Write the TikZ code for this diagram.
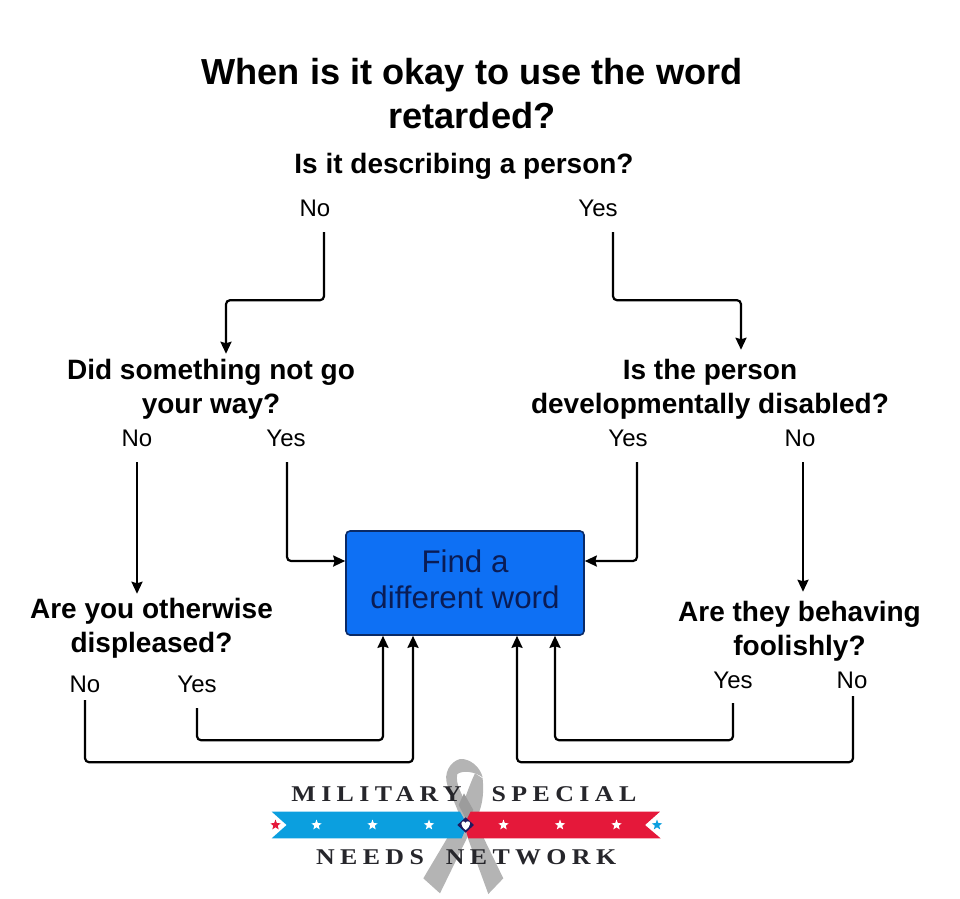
\documentclass[tikz,border=0pt]{standalone}
\usepackage{fontspec}
\setmainfont{Liberation Sans}
\newfontfamily\logofont[LetterSpace=24,FakeStretch=1.15]{Liberation Serif}
\usetikzlibrary{arrows.meta,shapes.geometric}
\definecolor{boxblue}{HTML}{0E70F4}
\definecolor{boxedge}{HTML}{0A2A66}
\definecolor{boxtext}{HTML}{0A1C55}
\definecolor{ribgrey}{HTML}{B4B4B4}
\definecolor{ribdark}{HTML}{9C9C9C}
\definecolor{banblue}{HTML}{0B9FDF}
\definecolor{banred}{HTML}{E5183A}
\definecolor{navy}{HTML}{1E1A5E}
\definecolor{logotext}{HTML}{26262B}
\tikzset{
  title/.style={font=\bfseries\fontsize{36.2}{44}\selectfont,align=center,inner sep=0pt},
  question/.style={font=\bfseries\fontsize{28}{34}\selectfont,align=center,inner sep=0pt},
  answer/.style={font=\fontsize{24}{28}\selectfont,inner sep=0pt,minimum height=48pt},
  conn/.style={line width=2.2pt,rounded corners=4pt,-{Stealth[length=12pt,width=11pt,inset=1.5pt]}},
  result/.style={draw=boxedge,line width=1.6pt,fill=boxblue,rounded corners=4pt,minimum width=238pt,minimum height=104pt,
    inner sep=0pt,align=center,text=boxtext,font=\fontsize{31.3}{36}\selectfont},
  wstar/.style={star,star points=5,star point ratio=2.4,fill=white,inner sep=0pt,minimum size=11pt},
  logoline/.style={font=\logofont\bfseries\fontsize{22.5}{24}\selectfont,text=logotext,inner sep=0pt}
}
\begin{document}
\begin{tikzpicture}[x=1pt,y=-1pt]
\useasboundingbox (0,0) rectangle (960,898);
% texts
\node[title] (ttl) at (472,94) {When is it okay to use the word\\retarded?};
\node[question] (q0) at (464,166) {Is it describing a person?};
\node[answer] (n0) at (315,208) {No};
\node[answer] (y0) at (598,208) {Yes};
\node[question] (q1) at (211,389) {Did something not go\\your way?};
\node[question] (q2) at (710,389) {Is the person\\developmentally disabled?};
\node[answer] (n1) at (137,438) {No};
\node[answer] (y1) at (286,438) {Yes};
\node[answer] (y2) at (628,438) {Yes};
\node[answer] (n2) at (800,438) {No};
\node[question] (q3) at (151.5,628) {Are you otherwise\\displeased?};
\node[question] (q4) at (799.5,631) {Are they behaving\\foolishly?};
\node[answer] (n3) at (85,684) {No};
\node[answer] (y3) at (197,684) {Yes};
\node[answer] (y4) at (733,680) {Yes};
\node[answer] (n4) at (852,680) {No};
\node[result] (box) at (465,583) {Find a\\different word\\[-28pt]\mbox{}};
% connectors
\draw[conn] ([xshift=9pt]n0.south) -- ++(0,68) -| ([xshift=15pt,yshift=5pt]q1.north);
\draw[conn] ([xshift=15pt]y0.south) -- ++(0,68) -| ([xshift=31pt,yshift=9pt]q2.north);
\draw[conn] (n1.south) -- ([xshift=-14.5pt,yshift=4pt]q3.north);
\draw[conn] ([xshift=1pt]y1.south) |- ([yshift=22pt]box.west);
\draw[conn] ([xshift=9pt]y2.south) |- ([yshift=22pt]box.east);
\draw[conn] ([xshift=3pt]n2.south) -- ([xshift=3.5pt,yshift=9pt]q4.north);
\draw[conn] (y3.south) -- ++(0,32) -| ([xshift=-82pt]box.south);
\draw[conn] ([yshift=8pt]n3.south) -- ++(0,62) -| ([xshift=-52pt]box.south);
\draw[conn] ([yshift=1pt]y4.south) -- ++(0,37) -| ([xshift=90pt]box.south);
\draw[conn] ([xshift=1pt,yshift=8pt]n4.south) -- ++(0,66) -| ([xshift=52pt]box.south);
% logo: ribbon
\begin{scope}[shift={(260,750)},x=0.3333pt,y=-0.3333pt]
  \fill[ribgrey] (685,432) -- (730,385) -- (640,200) .. controls (605,135) and (585,100) .. (592,72)
     .. controls (610,60) and (645,65) .. (668,82)
     .. controls (660,50) and (630,25) .. (600,27)
     .. controls (570,35) and (550,70) .. (562,105)
     .. controls (575,140) and (590,170) .. (600,200) -- cycle;
  \fill[ribgrey] (490,385) -- (540,430) -- (640,225) .. controls (670,170) and (672,130) .. (668,85)
     -- (645,70) .. controls (630,100) and (610,160) .. (585,225) -- cycle;
  \fill[ribdark] (612,130) -- (640,180) -- (622,215) -- (596,165) -- cycle;
  \fill[banblue] (35,185) -- (600,185) -- (622,225) -- (605,265) -- (35,265) -- (80,225) -- cycle;
  \fill[banred] (632,185) -- (1200,185) -- (1155,225) -- (1202,265) -- (625,265) -- (612,225) -- cycle;
  \fill[navy] (592,225) -- (617,202) -- (642,225) -- (617,248) -- cycle;
  \fill[white] (617,240) .. controls (600,228) and (602,212) .. (612,214) .. controls (615,214) and (617,217) .. (617,219)
     .. controls (617,217) and (620,214) .. (623,214) .. controls (633,212) and (634,228) .. (617,240) -- cycle;
\end{scope}
\node[wstar,fill=banred] (s0) at (275.5,825) {};
\foreach \i/\x in {1/316.5,2/372.5,3/429,4/503.5,5/560,6/616.5} \node[wstar] (s\i) at (\x,825) {};
\node[wstar,fill=banblue] (s7) at (657,825) {};
\node[logoline] (l1) at (376.5,794) {MILITARY};
\node[logoline] (l2) at (564,794) {SPECIAL};
\node[logoline] (l3) at (370,857) {NEEDS};
\node[logoline] (l4) at (531,857) {NETWORK};
\end{tikzpicture}
\end{document}
